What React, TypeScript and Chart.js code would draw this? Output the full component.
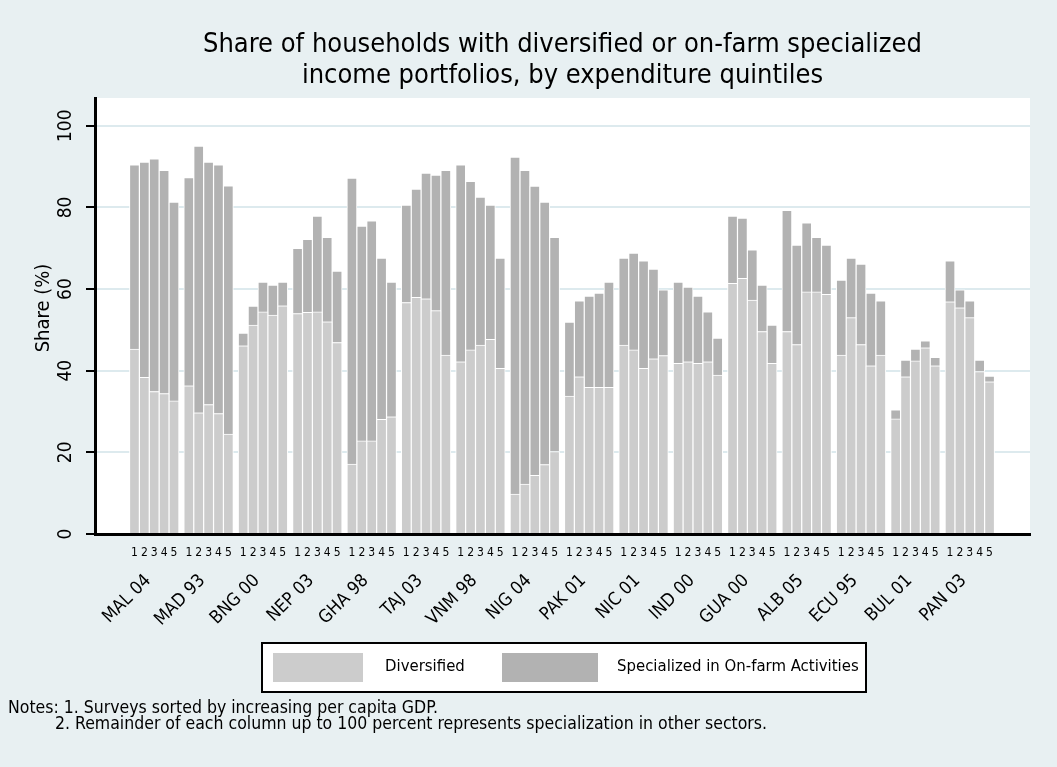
import React, { useEffect, useRef } from 'react';
import { Chart, registerables } from 'chart.js';

Chart.register(...registerables);

const groups = ['MAL 04', 'MAD 93', 'BNG 00', 'NEP 03', 'GHA 98', 'TAJ 03', 'VNM 98', 'NIG 04',
  'PAK 01', 'NIC 01', 'IND 00', 'GUA 00', 'ALB 05', 'ECU 95', 'BUL 01', 'PAN 03'];
const quintiles = ['1', '2', '3', '4', '5'];

const diversified = [
  45.3, 38.4, 34.9, 34.4, 32.6,
  36.3, 29.7, 31.7, 29.5, 24.5,
  46.1, 51.2, 54.4, 53.6, 55.9,
  54.0, 54.3, 54.4, 52.0, 46.9,
  17.1, 22.8, 22.8, 28.1, 28.7,
  56.7, 58.0, 57.6, 54.7, 43.8,
  42.2, 45.1, 46.3, 47.7, 40.6,
  9.8, 12.2, 14.4, 17.0, 20.2,
  33.8, 38.5, 35.9, 35.9, 35.9,
  46.3, 45.1, 40.6, 42.9, 43.7,
  41.8, 42.2, 41.8, 42.2, 38.9,
  61.4, 62.6, 57.3, 49.6, 41.8,
  49.6, 46.4, 59.3, 59.3, 58.7,
  43.8, 53.0, 46.4, 41.2, 43.8,
  28.2, 38.5, 42.4, 45.6, 41.2,
  56.9, 55.4, 53.0, 39.8, 37.3,
];

const specialized = [
  45.1, 52.7, 57.0, 54.7, 48.7,
  51.0, 65.3, 59.4, 60.9, 60.8,
  3.1, 4.6, 7.3, 7.4, 5.8,
  16.0, 17.9, 23.5, 20.7, 17.5,
  70.1, 52.6, 53.9, 39.5, 33.0,
  23.9, 26.5, 30.8, 33.2, 45.3,
  48.2, 41.3, 36.2, 32.9, 27.0,
  82.5, 76.9, 70.8, 64.3, 52.5,
  18.1, 18.6, 22.4, 23.1, 25.8,
  21.3, 23.7, 26.3, 22.0, 16.1,
  19.9, 18.3, 16.5, 12.2, 9.1,
  16.5, 14.8, 12.3, 11.4, 9.4,
  29.7, 24.4, 16.9, 13.4, 12.1,
  18.4, 14.6, 19.7, 17.8, 13.3,
  2.2, 4.1, 2.9, 1.7, 2.1,
  10.0, 4.4, 4.1, 2.8, 1.4,
];

const yTicks = [0, 20, 40, 60, 80, 100];
const titleLines = ['Share of households with diversified or on-farm specialized', 'income portfolios, by expenditure quintiles'];
const yTitle = 'Share (%)';
const legendLabels = ['Diversified', 'Specialized in On-farm Activities'];
const notesLines = ['Notes: 1. Surveys sorted by increasing per capita GDP.', '2. Remainder of each column up to 100 percent represents specialization in other sectors.'];

const FONT = '"DejaVu Sans Condensed", "Liberation Sans Narrow", "DejaVu Sans", sans-serif';
const BG = 'rgb(232,240,242)';
const GRID = 'rgb(221,234,238)';
const C_DIV = '#cccccc';
const C_SPEC = '#b2b2b2';
const GROUP_STEP = 5.5;
const X_MIN = -3.4;
const X_MAX = 90;

const barPos = (i: number) => Math.floor(i / 5) * GROUP_STEP + (i % 5);

const bgPlugin = {
  id: 'bgPlugin',
  beforeDraw(chart: any) {
    const { ctx, chartArea: a, width, height } = chart;
    ctx.save();
    ctx.fillStyle = BG;
    ctx.fillRect(0, 0, width, height);
    ctx.fillStyle = '#ffffff';
    ctx.fillRect(a.left, a.top, a.right - a.left, a.bottom - a.top);
    ctx.restore();
  },
};

const textPlugin = {
  id: 'textPlugin',
  afterDraw(chart: any) {
    const { ctx, chartArea: a } = chart;
    const y = chart.scales.y;
    const x = chart.scales.x;
    ctx.save();
    ctx.fillStyle = '#000';
    // title
    ctx.font = `27px ${FONT}`;
    ctx.textAlign = 'center';
    ctx.textBaseline = 'middle';
    const cx = (a.left + a.right) / 2;
    ctx.fillText(titleLines[0], cx, 45);
    ctx.fillText(titleLines[1], cx, 76);
    // y tick labels (rotated)
    ctx.font = `19px ${FONT}`;
    yTicks.forEach((v) => {
      ctx.save();
      ctx.translate(66, y.getPixelForValue(v));
      ctx.rotate(-Math.PI / 2);
      ctx.fillText(String(v), 0, 0);
      ctx.restore();
    });
    // y title
    ctx.font = `20px ${FONT}`;
    ctx.save();
    ctx.translate(44, (a.top + a.bottom) / 2 - 8);
    ctx.rotate(-Math.PI / 2);
    ctx.fillText(yTitle, 0, 0);
    ctx.restore();
    // group labels (rotated 45 degrees)
    ctx.font = `18px ${FONT}`;
    ctx.textAlign = 'right';
    groups.forEach((gname, g) => {
      ctx.save();
      ctx.translate(x.getPixelForValue(g * GROUP_STEP + 2) - 6, 578);
      ctx.rotate(-Math.PI / 4);
      ctx.fillText(gname, 0, 0);
      ctx.restore();
    });
    // legend
    ctx.fillStyle = '#fff';
    ctx.fillRect(262, 643, 604, 49);
    ctx.strokeStyle = '#000';
    ctx.lineWidth = 2;
    ctx.strokeRect(262, 643, 604, 49);
    ctx.fillStyle = C_DIV;
    ctx.fillRect(273, 653, 90, 29);
    ctx.fillStyle = C_SPEC;
    ctx.fillRect(502, 653, 96, 29);
    ctx.fillStyle = '#000';
    ctx.font = `16.6px ${FONT}`;
    ctx.textAlign = 'left';
    ctx.fillText(legendLabels[0], 385, 667);
    ctx.fillText(legendLabels[1], 617, 667);
    // notes
    ctx.font = `17.5px ${FONT}`;
    ctx.fillText(notesLines[0], 8, 708);
    ctx.fillText(notesLines[1], 55, 724);
    ctx.restore();
  },
};

export default function App() {
  const ref = useRef<HTMLCanvasElement>(null);
  useEffect(() => {
    if (!ref.current) return;
    const chart = new Chart(ref.current, {
      type: 'bar',
      data: {
        datasets: [
          {
            label: legendLabels[0],
            data: diversified.map((v, i) => ({ x: barPos(i), y: v })),
            backgroundColor: C_DIV,
            borderColor: '#ffffff',
            borderWidth: 1,
            barThickness: 10,
          },
          {
            label: legendLabels[1],
            data: specialized.map((v, i) => ({ x: barPos(i), y: v })),
            backgroundColor: C_SPEC,
            borderColor: '#ffffff',
            borderWidth: 1,
            barThickness: 10,
          },
        ],
      } as any,
      options: {
        animation: false,
        responsive: false,
        layout: { padding: { left: 0, right: 27, top: 98, bottom: 147 } },
        plugins: {
          legend: { display: false },
          title: { display: false },
          tooltip: { enabled: false },
        },
        scales: {
          x: {
            type: 'linear',
            min: X_MIN,
            max: X_MAX,
            stacked: true,
            position: 'bottom',
            grid: { display: false },
            border: { display: true, color: '#000', width: 3 },
            ticks: {
              autoSkip: false,
              minRotation: 0,
              maxRotation: 0,
              padding: 4,
              color: '#000',
              font: { family: FONT, size: 12 },
              callback: (_v: any, i: number) => quintiles[i % 5],
            },
            afterBuildTicks: (s: any) => {
              s.ticks = diversified.map((_, i) => ({ value: barPos(i) }));
            },
            afterFit: (s: any) => {
              s.height = 86;
            },
          },
          y: {
            min: 0,
            max: 106.8,
            stacked: true,
            grid: { color: GRID, lineWidth: 2, tickColor: '#000', tickWidth: 2, tickLength: 9, drawTicks: true },
            border: { color: '#000', width: 3 },
            ticks: { display: false },
            afterBuildTicks: (s: any) => {
              s.ticks = yTicks.map((v) => ({ value: v }));
            },
            afterFit: (s: any) => {
              s.width = 95;
            },
          },
        },
      } as any,
      plugins: [bgPlugin, textPlugin],
    });
    return () => chart.destroy();
  }, []);
  return (
    <div style={{ position: 'fixed', left: 0, top: 0, width: 1057, height: 767, background: BG }}>
      <canvas ref={ref} width={1057} height={767} style={{ display: 'block', width: 1057, height: 767 }} />
    </div>
  );
}
